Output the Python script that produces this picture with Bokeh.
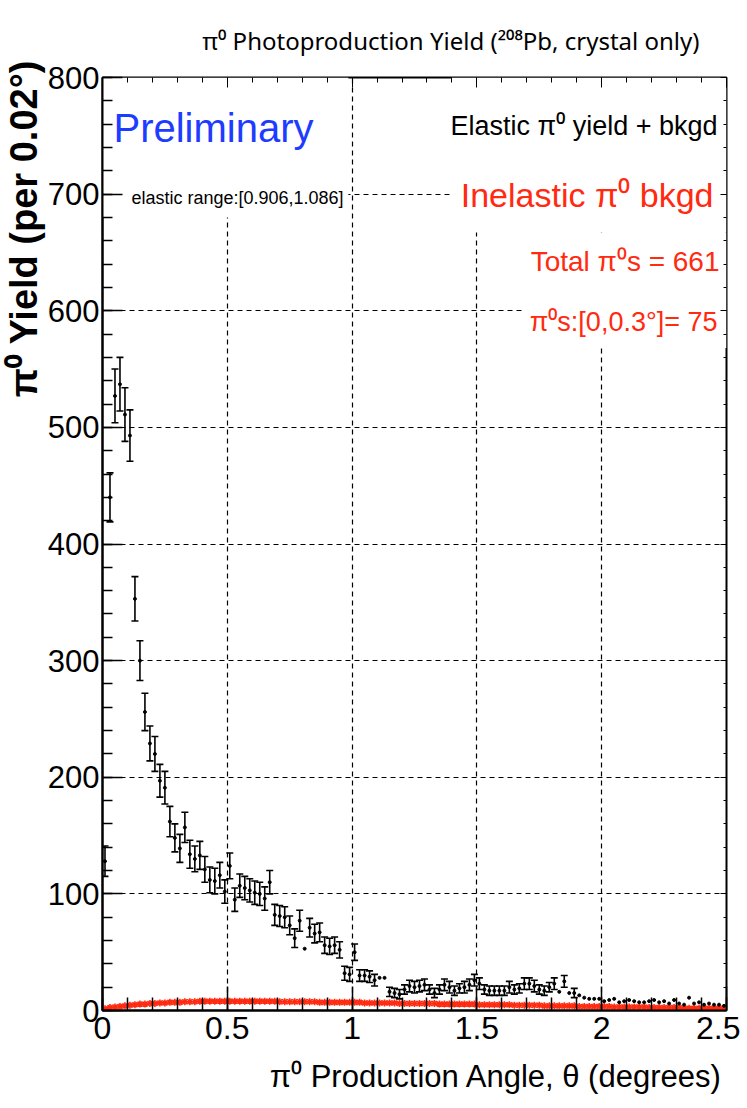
import math
from bokeh.plotting import figure
from bokeh.models import (ColumnDataSource, Whisker, TeeHead, FixedTicker,
                          LinearAxis, Range1d, Label, Title)
from bokeh.embed import file_html
from bokeh.resources import INLINE

# ---------------- data ----------------
bin_width = 0.02
n_bins = 125
theta = [round(bin_width * (i + 0.5), 4) for i in range(n_bins)]

elastic_yield = [
    128, 440, 527, 537, 511, 493, 353, 300, 256, 229,
    220, 197, 191, 162, 148, 139, 157, 134, 130, 133,
    121, 112, 111, 116, 102, 124, 95, 107, 105, 103,
    101, 100, 96, 110, 82, 81, 80, 73, 62, 77,
    53, 71, 66, 67, 56, 55, 56, 52, 32, 31,
    50, 30, 30, 29, 26, 28, 28, 16, 15, 14,
    18, 21, 20, 21, 22, 18, 15, 18, 22, 20,
    17, 19, 20, 22, 26, 23, 18, 17, 17, 17,
    17, 20, 18, 19, 23, 23, 21, 18, 17, 20,
    23, 16, 25, 15, 15, 13, 11, 10, 10, 10,
    8, 9, 10, 7, 8, 9, 8, 7, 7, 8,
    9, 7, 8, 6, 9, 6, 5, 11, 6, 7,
    5, 6, 5, 5, 4,
]
elastic_err = [
    13, 21, 23, 23, 23, 22, 19, 17, 16, 15,
    15, 14, 14, 13, 12, 12, 13, 12, 11, 12,
    11, 11, 11, 11, 10, 11, 10, 10, 10, 10,
    10, 10, 10, 10, 9, 9, 9, 8, 8, 9,
    0, 8, 8, 8, 7, 7, 7, 7, 6, 6,
    7, 5, 5, 5, 5, 0, 0, 4, 4, 4,
    4, 5, 5, 5, 5, 4, 4, 4, 5, 5,
    4, 4, 5, 5, 5, 5, 4, 4, 4, 4,
    4, 5, 4, 4, 5, 5, 5, 4, 4, 4,
    5, 0, 5, 0, 4, 0, 0, 0, 0, 0,
    0, 0, 0, 0, 0, 0, 0, 0, 0, 0,
    0, 0, 0, 0, 0, 0, 0, 0, 0, 0,
    0, 0, 0, 0, 0,
]
inelastic_bkgd = [
    1.5, 2.5, 3, 3.5, 4, 4.5, 5, 5.5, 5.5, 6,
    6, 6.5, 6.5, 7, 7, 7, 7.5, 7.5, 7.5, 8,
    8, 8, 8, 8, 8, 8, 8, 8, 8, 8,
    8, 8, 8, 8, 8, 7.5, 7.5, 7.5, 7.5, 7.5,
    7.5, 7.5, 7.5, 7, 7, 7, 7, 7, 7, 7,
    7, 7, 6.5, 6.5, 6.5, 6.5, 6.5, 6.5, 6.5, 6,
    6, 6, 6, 6, 6, 6, 6, 5.5, 5.5, 5.5,
    5.5, 5.5, 5.5, 5.5, 5.5, 5, 5, 5, 5, 5,
    5, 5, 4.5, 4.5, 4.5, 4.5, 4.5, 4.5, 4, 4,
    4, 4, 4, 4, 4, 3.5, 3.5, 3.5, 3.5, 3.5,
    3.5, 3.5, 3, 3, 3, 3, 3, 3, 3, 2.5,
    2.5, 2.5, 2.5, 2.5, 2.5, 2.5, 2, 2, 2, 2,
    2, 2, 2, 2, 2,
]

x_tick_values = [0, 0.5, 1, 1.5, 2, 2.5]
x_tick_labels = ["0", "0.5", "1", "1.5", "2", "2.5"]
y_tick_values = [0, 100, 200, 300, 400, 500, 600, 700, 800]

title_text = "\u03c0\u2070 Photoproduction Yield (\u00b2\u2070\u2078Pb, crystal only)"
xlabel_text = "\u03c0\u2070 Production Angle, \u03b8 (degrees)"
ylabel_text = "\u03c0\u2070 Yield (per 0.02\u00b0)"
prelim_text = "Preliminary"
range_text = "elastic range:[0.906,1.086]"
leg1_text = "Elastic \u03c0\u2070 yield + bkgd"
leg2_text = "Inelastic \u03c0\u2070 bkgd"
total_text = "Total \u03c0\u2070s = 661"
cut_text = "\u03c0\u2070s:[0,0.3\u00b0]= 75"

# ---------------- figure ----------------
FONT = "Liberation Sans"
RED = "#ff2a10"

p = figure(title=None, frame_width=624, frame_height=933,
           x_range=Range1d(0, 2.5), y_range=Range1d(0, 800),
           output_backend="svg", toolbar_location=None,
           min_border_left=99, min_border_right=14,
           min_border_top=75, min_border_bottom=100)
p.outline_line_color = "black"
p.outline_line_width = 2
p.background_fill_color = "white"
p.border_fill_color = "white"

minor_x = [round(0.1 * i, 2) for i in range(26)]
minor_y = [20 * i for i in range(41)]

xa = p.xaxis[0]
xa.ticker = FixedTicker(ticks=x_tick_values, minor_ticks=minor_x)
xa.major_label_overrides = {v: s for v, s in zip(x_tick_values, x_tick_labels)}
ya = p.yaxis[0]
ya.ticker = FixedTicker(ticks=y_tick_values, minor_ticks=minor_y)

for ax, size in ((xa, "32px"), (ya, "31px")):
    ax.major_label_text_font = FONT
    ax.major_label_text_font_size = size
    ax.major_label_text_color = "black"
    ax.axis_line_color = "black"
    ax.axis_line_width = 2
    ax.major_tick_out = 0
    ax.minor_tick_out = 0
    ax.major_tick_line_color = "black"
    ax.minor_tick_line_color = "black"
    ax.major_tick_line_width = 1.5
    ax.minor_tick_line_width = 1.5
xa.major_tick_in = 24
xa.minor_tick_in = 13
xa.major_label_standoff = 6
ya.major_tick_in = 20
ya.minor_tick_in = 10
ya.major_label_standoff = 3

top = LinearAxis(ticker=FixedTicker(ticks=x_tick_values, minor_ticks=minor_x),
                 major_label_text_font_size="6px", major_label_text_color=None,
                 axis_line_color=None,
                 major_tick_in=10, major_tick_out=0, minor_tick_in=5, minor_tick_out=0,
                 major_label_standoff=0)
right = LinearAxis(ticker=FixedTicker(ticks=y_tick_values, minor_ticks=minor_y),
                   major_label_text_font_size="6px", major_label_text_color=None,
                   axis_line_color=None,
                   major_tick_in=6, major_tick_out=0, minor_tick_in=3, minor_tick_out=0,
                   major_label_standoff=0)
p.add_layout(top, "above")
p.add_layout(right, "right")

# titles (ROOT-style: right / top aligned)
p.add_layout(Title(text=title_text, align="right", offset=27, text_color="black",
                   text_font="Noto Sans", text_font_size="24px", text_font_style="normal",
                   standoff=42), "above")
p.add_layout(Title(text=xlabel_text, align="right", offset=4, text_color="black",
                   text_font=FONT, text_font_size="31px", text_font_style="normal",
                   standoff=30), "below")
p.add_layout(Title(text=ylabel_text, align="right", offset=-17, text_color="black",
                   text_font=FONT, text_font_size="38px", text_font_style="bold",
                   standoff=0), "left")

p.xgrid.ticker = FixedTicker(ticks=[0.5, 1, 1.5, 2])
p.ygrid.ticker = FixedTicker(ticks=[100, 200, 300, 400, 500, 600, 700])
for g in (p.xgrid, p.ygrid):
    g.grid_line_color = "black"
    g.grid_line_dash = "5 4"
    g.grid_line_width = 1.2

# white panes behind the text boxes (hide grid like ROOT's TPaveText)
p.quad(left=[0.0, 1.40, 1.69], right=[0.985, 2.5, 2.5],
       bottom=[680, 667, 568], top=[800, 800, 667],
       fill_color="white", line_color=None)

# inelastic background (red)
red_src = ColumnDataSource(dict(x=theta, y=inelastic_bkgd))
p.scatter("x", "y", source=red_src, marker="asterisk", size=7,
          line_color=RED, line_width=1.6)

# elastic yield + bkgd with error bars
src = ColumnDataSource(dict(x=theta, y=elastic_yield))
idx = [i for i, e in enumerate(elastic_err) if e > 0]
err_src = ColumnDataSource(dict(x=[theta[i] for i in idx],
                                upper=[elastic_yield[i] + elastic_err[i] for i in idx],
                                lower=[elastic_yield[i] - elastic_err[i] for i in idx]))
p.add_layout(Whisker(base="x", upper="upper", lower="lower", source=err_src,
                     line_color="black", line_width=1.6,
                     upper_head=TeeHead(size=7, line_color="black", line_width=1.6),
                     lower_head=TeeHead(size=7, line_color="black", line_width=1.6)))
p.scatter("x", "y", source=src, marker="circle", size=3,
          fill_color="black", line_color="black")

# ---------------- in-frame texts ----------------
def lab(x, y, text, size, color="black", align="left"):
    p.add_layout(Label(x=x, y=y, text=text, text_font=FONT, text_font_size=size,
                       text_color=color, text_align=align, text_baseline="middle"))

lab(0.044, 757, prelim_text, "40px", color="#1e3cff")
lab(0.116, 697, range_text, "18px")
lab(2.464, 758, leg1_text, "27px", align="right")
lab(2.448, 699, leg2_text, "34px", color=RED, align="right")
lab(2.472, 642, total_text, "28px", color=RED, align="right")
lab(2.464, 590, cut_text, "27px", color=RED, align="right")

open("out.html", "w").write(file_html(p, INLINE))
